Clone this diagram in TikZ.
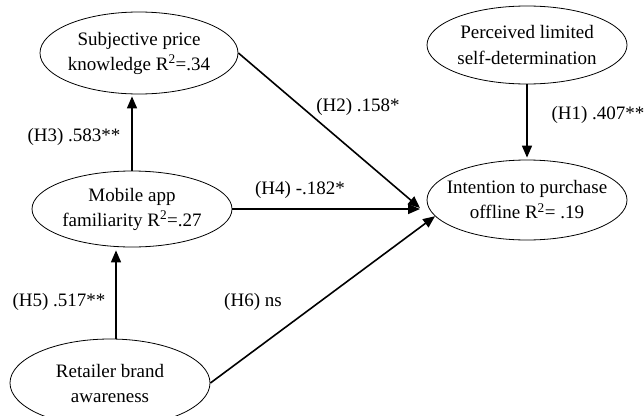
\documentclass[tikz,border=0pt]{standalone}
\usepackage{fontspec}
\setmainfont{Liberation Serif}
\usepackage{tikz}
\usetikzlibrary{shapes.geometric}
\usetikzlibrary{arrows.meta}
\usetikzlibrary{calc}

\begin{document}
\begin{tikzpicture}[x=1pt, y=-1pt,
		construct/.style={draw, ellipse, line width=0.8pt, inner sep=-20pt, minimum width=200pt, align=center, font=\fontsize{19}{25}\selectfont},
		path/.style={line width=1.6pt, -{Triangle[length=12pt,width=10pt]}},
		coef/.style={font=\fontsize{19}{25}\selectfont}]
			\useasboundingbox (0,0) rectangle (644,415);
			\node[construct, minimum height=82pt, minimum width=198pt] (sub) at (139,53) {Subjective price\\knowledge R\textsuperscript{2}=.34};
			\node[construct, minimum height=78pt] (per) at (527,45) {Perceived limited\\self-determination};
			\node[construct, minimum height=76pt] (mob) at (132,209) {Mobile app\\familiarity R\textsuperscript{2}=.27};
			\node[construct, minimum height=80pt] (int) at (527,200) {Intention to purchase\\offline R\textsuperscript{2}= .19};
			\node[construct, minimum height=88pt] (ret) at (110,383) {Retailer brand\\awareness};
			\coordinate (meet) at (420,208);
			\draw[path, shorten >=2pt] (per.south) -- (int.north);
			\draw[path] (sub.east) -- (meet);
			\draw[path, shorten >=2pt] (mob.north) -- (mob.north |- sub.south);
			\draw[path] (mob.east) -- (mob.east -| meet);
			\draw[path, shorten >=3pt] ([xshift=6pt]ret.north) -- ([xshift=6pt]ret.north |- mob.south);
			\draw[path] (ret.east) -- (int.190);
			\node[coef, anchor=west] (lblH1) at (548,115) {(H1) .407**};
			\node[coef] (lblH2) at (358,107) {(H2) .158*};
			\node[coef] (lblH3) at (74,137) {(H3) .583**};
			\node[coef] (lblH4) at (300,190) {(H4) -.182*};
			\node[coef] (lblH5) at (59,302) {(H5) .517**};
			\node[coef] (lblH6) at (253,302) {(H6) ns};
		\end{tikzpicture}
\end{document}
